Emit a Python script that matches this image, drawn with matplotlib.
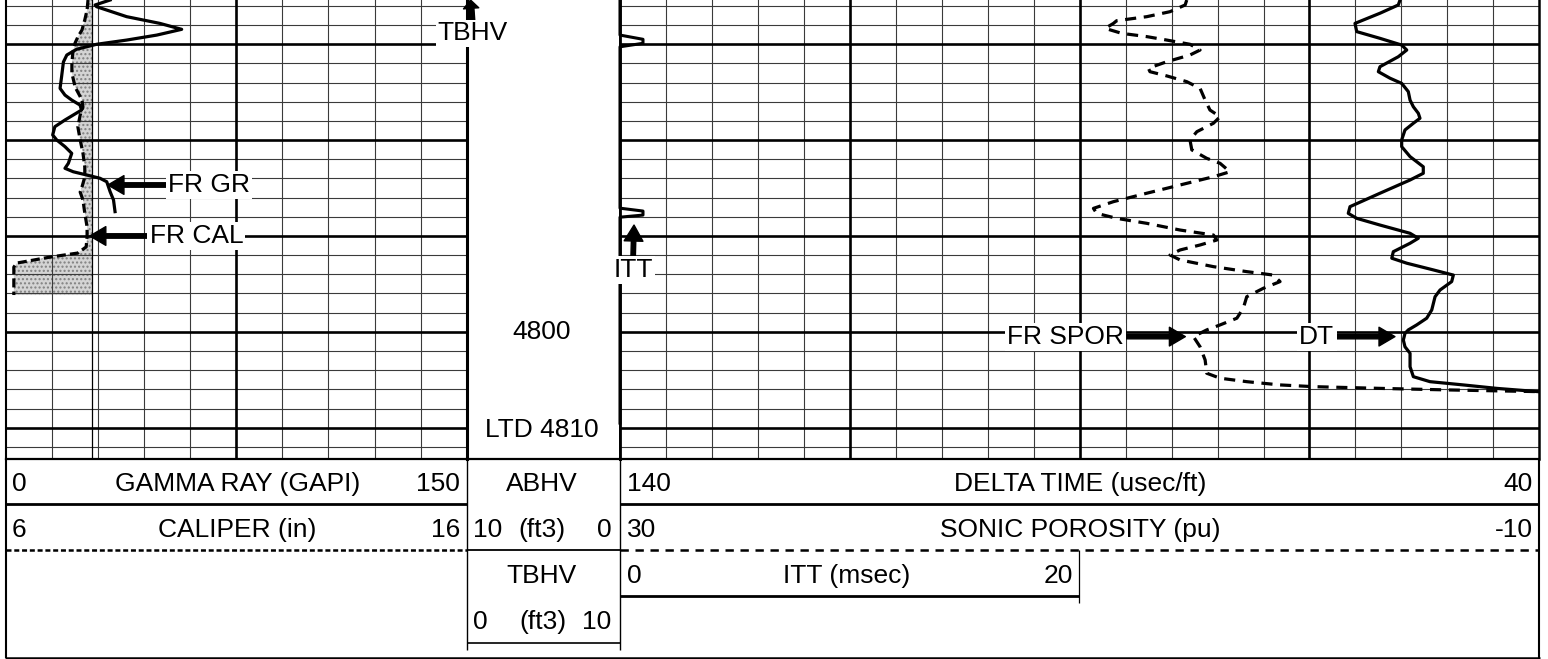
import matplotlib
matplotlib.use("Agg")
import matplotlib.pyplot as plt
import numpy as np

plt.rcParams['font.family'] = ['Liberation Sans', 'DejaVu Sans']
plt.rcParams['lines.scale_dashes'] = False
plt.rcParams['hatch.linewidth'] = 1.0
plt.rcParams['lines.solid_joinstyle'] = 'round'
plt.rcParams['lines.dash_joinstyle'] = 'round'

# ------------------------------------------------------------------ data
depth_top, depth_bottom = 4782.69, 4806.65

gr_depth = [4782.69, 4782.95, 4783.04, 4783.56, 4783.91, 4784.22, 4784.52, 4784.78,
            4785.00, 4785.26, 4785.56, 4785.92, 4786.69, 4787.30, 4787.65, 4787.91,
            4788.17, 4788.43, 4788.69, 4788.95, 4789.30, 4789.73, 4789.99, 4790.34,
            4790.69, 4791.21, 4791.47, 4791.65, 4791.82, 4791.99, 4792.17, 4792.69,
            4793.12, 4793.73]
gr_vals = [33.9, 29.0, 29.5, 39.3, 50.1, 57.2, 49.1, 39.3, 29.5, 23.0, 19.8, 18.7,
           18.1, 17.6, 19.2, 21.4, 24.1, 24.6, 21.9, 19.2, 15.9, 15.2, 16.5, 19.2,
           21.4, 20.3, 19.2, 21.9, 26.3, 30.6, 32.8, 33.9, 35.0, 35.5]

cal_depth = [4782.69, 4783.21, 4783.73, 4784.25, 4784.62, 4784.93, 4785.45, 4785.98,
             4786.50, 4787.23, 4787.91, 4788.27, 4788.69, 4789.31, 4789.99, 4790.67,
             4791.40, 4791.92, 4792.44, 4792.71, 4793.12, 4793.80, 4794.53, 4795.05,
             4795.57, 4795.89, 4796.10, 4796.41, 4796.62, 4798.08]
cal_vals = [7.78, 7.76, 7.71, 7.65, 7.56, 7.50, 7.45, 7.43, 7.43, 7.50, 7.65, 7.67,
            7.61, 7.56, 7.61, 7.67, 7.71, 7.71, 7.65, 7.61, 7.67, 7.71, 7.76, 7.76,
            7.74, 7.56, 6.96, 6.24, 6.17, 6.17]
bit_size = 7.875

dt_depth = [4782.69, 4782.95, 4783.38, 4783.91, 4784.34, 4784.69, 4785.04, 4785.30,
            4785.65, 4786.17, 4786.43, 4786.77, 4787.04, 4787.47, 4787.91, 4788.26,
            4788.60, 4788.86, 4789.12, 4789.47, 4789.99, 4790.34, 4790.86, 4791.39,
            4791.73, 4792.08, 4792.77, 4793.47, 4793.82, 4794.08, 4794.43, 4794.86,
            4795.12, 4795.38, 4795.82, 4796.16, 4796.42, 4796.77, 4797.04, 4797.38,
            4797.82, 4798.17, 4798.86, 4799.29, 4799.64, 4799.90, 4800.08, 4800.43,
            4800.78, 4801.12, 4801.82, 4802.34, 4802.60, 4802.77, 4802.95, 4803.12]
dt_vals = [55.15, 55.34, 57.33, 60.05, 59.86, 57.33, 54.97, 54.42, 55.34, 57.33,
           57.51, 56.24, 54.97, 54.25, 54.06, 53.70, 53.16, 52.98, 53.70, 54.61,
           54.97, 54.97, 54.06, 52.62, 52.62, 54.06, 57.33, 60.59, 60.78, 59.86,
           57.33, 54.06, 53.16, 54.06, 55.88, 56.05, 54.42, 51.53, 49.35, 49.53,
           50.80, 51.34, 51.70, 52.25, 53.34, 54.25, 54.61, 54.79, 54.61, 54.06,
           54.06, 53.70, 51.89, 48.27, 44.63, 40.14]

spor_depth = [4782.69, 4782.95, 4783.30, 4783.56, 4783.77, 4783.91, 4784.17, 4784.43,
              4784.60, 4784.78, 4785.00, 4785.30, 4785.56, 4785.91, 4786.25, 4786.43,
              4786.65, 4786.95, 4787.30, 4787.91, 4788.43, 4788.78, 4789.12, 4789.56,
              4789.99, 4790.51, 4790.95, 4791.21, 4791.65, 4791.91, 4792.34, 4792.77,
              4793.21, 4793.56, 4793.82, 4794.08, 4794.34, 4794.69, 4794.95, 4795.21,
              4795.47, 4795.73, 4795.99, 4796.25, 4796.60, 4796.86, 4797.04, 4797.38,
              4797.73, 4798.17, 4798.77, 4799.29, 4799.64, 4799.90, 4800.25, 4800.78,
              4801.47, 4802.16, 4802.42, 4802.60, 4802.77, 4802.86, 4802.95, 4803.03,
              4803.12]
spor_vals = [5.34, 5.41, 6.07, 7.08, 8.39, 8.53, 8.89, 8.17, 7.08, 6.21, 5.20, 4.76,
             5.20, 6.21, 7.01, 6.94, 6.21, 5.34, 4.76, 4.54, 4.33, 3.89, 4.18, 4.90,
             5.20, 5.12, 4.47, 3.89, 3.46, 4.18, 5.63, 7.08, 8.53, 9.40, 9.26, 8.39,
             7.08, 5.63, 4.18, 4.03, 4.76, 5.63, 6.07, 5.63, 4.18, 2.73, 1.57, 1.28,
             2.01, 2.73, 2.88, 3.16, 3.89, 4.47, 5.05, 4.76, 4.54, 4.47, 3.89, 2.73,
             1.28, -0.17, -3.07, -5.97, -9.95]

itt_depth = [4782.69, 4784.52, 4784.74, 4784.95, 4785.13, 4793.55, 4793.70, 4793.91,
             4794.02, 4804.76]
itt_vals = [0, 0, 1.0, 1.0, 0, 0, 1.0, 1.0, 0, 0]

tbhv_depth = [4782.69, 4806.65]
tbhv_vals = [0, 0]

gr_range = (0, 150)
cal_range = (6, 16)
dt_range = (140, 40)
spor_range = (30, -10)
itt_range = (0, 20)
hv_range = (0, 10)

# ------------------------------------------------------------------ layout
W, H = 1548, 659
fig = plt.figure(figsize=(W / 100, H / 100), dpi=100)
fig.patch.set_facecolor('white')

X1 = (6.0, 466.7)
XD = (466.7, 620.0)
X2 = (620.0, 1539.3)
GY = 459.3
FS = 19
THIN = dict(color='#3a3a3a', lw=0.8, zorder=1.5)
THICK = dict(color='black', lw=1.9, zorder=1.6)
CURVE_LW = 2.3
CAL_DASH = (6.5, 3.0)
SPOR_DASH = (8.0, 5.5)
ARROW = dict(facecolor='black', edgecolor='black', width=3.2, headwidth=13.5,
             headlength=11.5, shrink=0.0)
BOX = dict(facecolor='white', edgecolor='none', pad=1.5)


def px_axes(x0, x1, y0, y1):
    ax = fig.add_axes([x0 / W, 1 - y1 / H, (x1 - x0) / W, (y1 - y0) / H])
    ax.set_xticks([])
    ax.set_yticks([])
    return ax


def twin(ax):
    t = ax.twiny()
    t.set_xticks([])
    t.tick_params(which='both', top=False, bottom=False, labeltop=False)
    for s in t.spines.values():
        s.set_visible(False)
    t.patch.set_visible(False)
    return t


def depth_grid(ax):
    for d in range(int(np.ceil(depth_top)), int(depth_bottom) + 1):
        ax.axhline(d, **(THICK if d % 5 == 0 else THIN))


def style_spines(ax, left, right, bottom):
    ax.spines['top'].set_visible(False)
    ax.spines['left'].set_linewidth(left)
    ax.spines['right'].set_linewidth(right)
    ax.spines['bottom'].set_linewidth(bottom)


# ---- track 1 : caliper base + gamma ray twin
ax_cal = px_axes(X1[0], X1[1], 0, GY)
ax_cal.set_xlim(*cal_range)
ax_cal.set_ylim(depth_bottom, depth_top)
for k, v in enumerate(np.linspace(cal_range[0], cal_range[1], 11)[1:-1]):
    ax_cal.axvline(v, **(THICK if k == 4 else THIN))
depth_grid(ax_cal)
style_spines(ax_cal, 1.5, 2.0, 1.6)
cal_arr = np.array(cal_vals)
ax_cal.fill_betweenx(cal_depth, cal_arr, bit_size, where=cal_arr < bit_size,
                     interpolate=True, facecolor='#d4d4d4', edgecolor='#808080',
                     hatch='....', linewidth=0, zorder=1.0)
ax_cal.axvline(bit_size, color='black', lw=0.9, zorder=2.0)
ax_cal.plot(cal_vals, cal_depth, color='black', lw=CURVE_LW, dashes=CAL_DASH, zorder=3)

ax_gr = twin(ax_cal)
ax_gr.set_xlim(*gr_range)
ax_gr.plot(gr_vals, gr_depth, color='black', lw=CURVE_LW, zorder=3)
ax_gr.annotate('FR GR', xy=(33.2, 4792.34), xytext=(66.2, 4792.34), fontsize=FS,
               ha='center', va='center', bbox=BOX, arrowprops=ARROW, zorder=6,
               annotation_clip=False)
ax_gr.annotate('FR CAL', xy=(27.3, 4795.0), xytext=(62.0, 4795.0), fontsize=FS,
               ha='center', va='center', bbox=BOX, arrowprops=ARROW, zorder=6,
               annotation_clip=False)

# ---- depth track
ax_d = px_axes(XD[0], XD[1], 0, GY)
ax_d.set_xlim(*hv_range)
ax_d.set_ylim(depth_bottom, depth_top)
style_spines(ax_d, 2.0, 2.0, 1.6)
ax_d.plot(tbhv_vals, tbhv_depth, color='black', lw=2.2, clip_on=False, zorder=3)
ax_d.text(4.9, 4800.0, '4800', fontsize=FS, ha='center', va='center', zorder=5)
ax_d.text(4.9, 4805.12, 'LTD 4810', fontsize=FS, ha='center', va='center', zorder=5)
ax_d.annotate('TBHV', xy=(0.25, depth_top), xytext=(0.35, 4784.43), fontsize=FS,
              ha='center', va='center', bbox=dict(facecolor='white', edgecolor='none', pad=1.0),
              arrowprops=dict(facecolor='black', edgecolor='black', width=4.0,
                              headwidth=11, headlength=6, shrink=0.0),
              zorder=6, annotation_clip=False)

# ---- track 2/3 : delta time base + sonic porosity + ITT
ax_dt = px_axes(X2[0], X2[1], 0, GY)
ax_dt.set_xlim(*dt_range)
ax_dt.set_ylim(depth_bottom, depth_top)
for k, v in enumerate(np.linspace(dt_range[0], dt_range[1], 21)[1:-1]):
    ax_dt.axvline(v, **(THICK if (k + 1) % 5 == 0 else THIN))
depth_grid(ax_dt)
style_spines(ax_dt, 2.0, 1.8, 1.6)
ax_dt.plot(dt_vals, dt_depth, color='black', lw=CURVE_LW, zorder=3)

ax_sp = twin(ax_dt)
ax_sp.set_xlim(*spor_range)
ax_sp.plot(spor_vals, spor_depth, color='black', lw=CURVE_LW, dashes=SPOR_DASH, zorder=3)

ax_itt = twin(ax_dt)
ax_itt.set_xlim(itt_range[0], 2 * itt_range[1])
ax_itt.plot(itt_vals, itt_depth, color='black', lw=2.2, clip_on=False, zorder=3)
ax_itt.annotate('ITT', xy=(0.61, 4794.43), xytext=(0.57, 4796.77), fontsize=FS,
                ha='center', va='center', bbox=BOX, arrowprops=ARROW, zorder=6,
                annotation_clip=False)
ax_itt.annotate('FR SPOR', xy=(78.5, 4800.25), xytext=(91.5, 4800.25),
                xycoords=ax_dt.transData, textcoords=ax_dt.transData, fontsize=FS,
                ha='center', va='center', bbox=BOX, arrowprops=ARROW, zorder=6,
                annotation_clip=False)
ax_itt.annotate('DT', xy=(55.7, 4800.25), xytext=(64.2, 4800.25),
                xycoords=ax_dt.transData, textcoords=ax_dt.transData, fontsize=FS,
                ha='center', va='center', bbox=BOX, arrowprops=ARROW, zorder=6,
                annotation_clip=False)

# ---- header (pixel coordinates)
axh = fig.add_axes([0, 0, 1, (H - GY) / H])
axh.set_xlim(0, W)
axh.set_ylim(H, GY)
axh.axis('off')


def hl(y, x0, x1, lw, dashes=None):
    ln, = axh.plot([x0, x1], [y, y], color='black', lw=lw, clip_on=False,
                   solid_capstyle='butt')
    if dashes:
        ln.set_dashes(dashes)


def vl(x, y0, y1, lw):
    axh.plot([x, x], [y0, y1], color='black', lw=lw, clip_on=False,
             solid_capstyle='butt')


hl(504, 5.5, XD[0], 2.0)
hl(504, X2[0], X2[1], 2.0)
hl(550, 5.5, XD[0], 1.8, (3.6, 2.0))
hl(550, XD[0], XD[1], 1.3)
hl(550, X2[0], X2[1], 1.8, (6.0, 4.8))
hl(595.7, X2[0], 1079.3, 2.0)
hl(642.7, XD[0], XD[1], 1.2)
vl(XD[0], GY, 650, 1.0)
vl(XD[1], GY, 650, 1.0)
vl(1079.3, 550, 603, 0.9)
vl(5.5, GY, 657.5, 1.5)
vl(X2[1], GY, 657.5, 1.5)
hl(657.5, 5.0, X2[1] + 0.7, 1.8)

rows = [490.7, 536.7, 583.3, 629.0]
header_text = [
    (11.7, 0, '0', 'left'), (238, 0, 'GAMMA RAY (GAPI)', 'center'), (460, 0, '150', 'right'),
    (541.7, 0, 'ABHV', 'center'), (626.7, 0, '140', 'left'),
    (1080, 0, 'DELTA TIME (usec/ft)', 'center'), (1533, 0, '40', 'right'),
    (11.7, 1, '6', 'left'), (237, 1, 'CALIPER (in)', 'center'), (460, 1, '16', 'right'),
    (473, 1, '10', 'left'), (541.7, 1, '(ft3)', 'center'), (611.7, 1, '0', 'right'),
    (626.7, 1, '30', 'left'), (1080, 1, 'SONIC POROSITY (pu)', 'center'),
    (1533, 1, '-10', 'right'),
    (541.7, 2, 'TBHV', 'center'), (626.7, 2, '0', 'left'), (847, 2, 'ITT (msec)', 'center'),
    (1073.3, 2, '20', 'right'),
    (472.7, 3, '0', 'left'), (542.5, 3, '(ft3)', 'center'), (611.7, 3, '10', 'right'),
]
for x, r, s, ha in header_text:
    axh.text(x, rows[r], s, fontsize=FS, ha=ha, va='baseline', clip_on=False)

fig.savefig('out.png', dpi=100, facecolor='white')
